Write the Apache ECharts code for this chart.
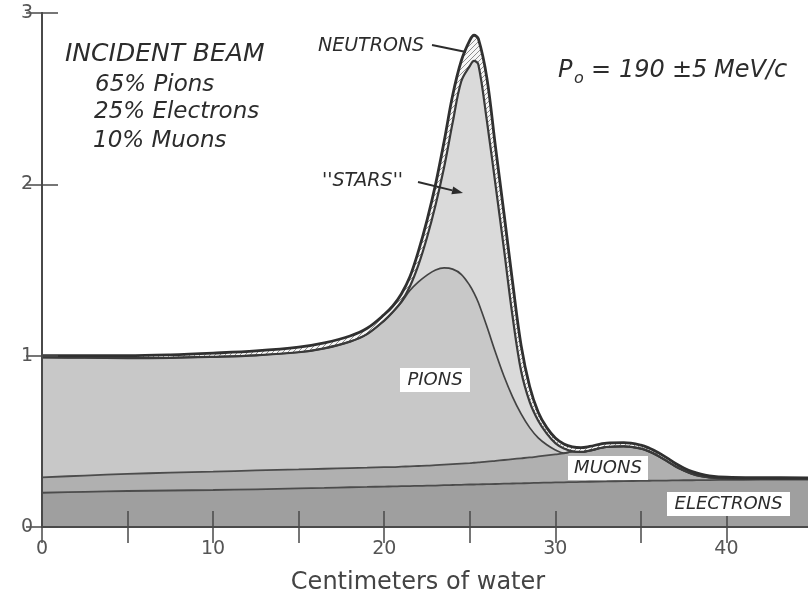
<!DOCTYPE html>
<html>
<head>
<meta charset="utf-8">
<script src="https://cdn.jsdelivr.net/npm/echarts@6/dist/echarts.min.js"></script>
<style>
  html, body { margin: 0; padding: 0; background: #ffffff; }
  #chart { width: 808px; height: 596px; }
</style>
</head>
<body>
<div id="chart"></div>
<script>
// Depth in water (cm) at which each boundary is sampled
const depth = [0, 2.5, 5, 7.5, 10, 12.5, 15, 16.5, 18, 19,
  20, 20.5, 21, 21.5, 22, 22.5, 23, 23.5, 24, 24.5,
  25, 25.25, 25.5, 26, 26.5, 27, 27.5, 28, 28.5, 29,
  29.5, 30, 30.5, 31, 31.5, 32, 33, 34, 35, 35.5,
  36, 36.5, 37, 37.5, 38, 38.5, 39, 40, 42, 45];

// Upper boundary of each stacked component (relative intensity)
const neutronsTop = [1.000, 1.000, 1.000, 1.005, 1.015, 1.028, 1.050, 1.075, 1.115, 1.160,
  1.240, 1.290, 1.360, 1.460, 1.610, 1.790, 2.000, 2.250, 2.520, 2.720,
  2.840, 2.870, 2.850, 2.620, 2.220, 1.830, 1.430, 1.060, 0.820, 0.670,
  0.580, 0.520, 0.485, 0.468, 0.463, 0.470, 0.490, 0.492, 0.478, 0.460,
  0.435, 0.405, 0.372, 0.345, 0.323, 0.308, 0.299, 0.291, 0.288, 0.287];

const starsTop = [0.990, 0.988, 0.986, 0.987, 0.993, 1.002, 1.020, 1.043, 1.082, 1.126,
  1.205, 1.255, 1.316, 1.404, 1.530, 1.690, 1.880, 2.100, 2.360, 2.600,
  2.690, 2.720, 2.700, 2.370, 2.000, 1.620, 1.230, 0.910, 0.730, 0.620,
  0.545, 0.490, 0.458, 0.442, 0.438, 0.446, 0.467, 0.470, 0.457, 0.440,
  0.415, 0.386, 0.355, 0.330, 0.310, 0.297, 0.289, 0.283, 0.281, 0.280];

const pionsTop = [0.990, 0.988, 0.986, 0.987, 0.993, 1.002, 1.020, 1.043, 1.082, 1.126,
  1.205, 1.255, 1.310, 1.380, 1.430, 1.470, 1.500, 1.512, 1.505, 1.475,
  1.410, 1.365, 1.310, 1.170, 1.020, 0.880, 0.760, 0.660, 0.580, 0.520,
  0.480, 0.450, 0.432, 0.440, 0.438, 0.446, 0.467, 0.470, 0.457, 0.440,
  0.415, 0.386, 0.355, 0.330, 0.310, 0.297, 0.289, 0.283, 0.281, 0.280];

const muonsTop = [0.290, 0.300, 0.310, 0.317, 0.323, 0.330, 0.336, 0.340, 0.344, 0.346,
  0.349, 0.350, 0.352, 0.354, 0.356, 0.358, 0.361, 0.364, 0.367, 0.370,
  0.373, 0.375, 0.377, 0.381, 0.386, 0.391, 0.396, 0.401, 0.406, 0.412,
  0.418, 0.424, 0.430, 0.440, 0.438, 0.446, 0.467, 0.470, 0.457, 0.440,
  0.415, 0.386, 0.355, 0.330, 0.310, 0.297, 0.289, 0.283, 0.281, 0.280];

const electronsTop = [0.200, 0.205, 0.210, 0.213, 0.216, 0.220, 0.225, 0.228, 0.232, 0.234,
  0.236, 0.237, 0.238, 0.239, 0.240, 0.241, 0.242, 0.244, 0.245, 0.246,
  0.248, 0.248, 0.249, 0.250, 0.251, 0.253, 0.254, 0.255, 0.256, 0.258,
  0.259, 0.260, 0.261, 0.262, 0.263, 0.264, 0.266, 0.268, 0.269, 0.270,
  0.271, 0.271, 0.272, 0.273, 0.273, 0.274, 0.274, 0.275, 0.276, 0.277];

// Axis tick labels
const xTickLabels = ['0', '10', '20', '30', '40'];
const yTickLabels = ['0', '1', '2', '3'];

const FONT = '"DejaVu Sans", "Liberation Sans", sans-serif';
const INK = '#2c2c2c';
const AXIS = '#4a4a4a';

// Diagonal hatching used for the neutron layer
function hatchPattern() {
  const c = document.createElement('canvas');
  c.width = 5; c.height = 5;
  const g = c.getContext('2d');
  g.fillStyle = '#f6f6f6';
  g.fillRect(0, 0, 5, 5);
  g.strokeStyle = '#8c8c8c';
  g.lineWidth = 1;
  g.beginPath();
  g.moveTo(-1, 6); g.lineTo(6, -1);
  g.moveTo(-1, 1); g.lineTo(1, -1);
  g.moveTo(4, 6); g.lineTo(6, 4);
  g.stroke();
  return c;
}

const SMOOTH = 0.35;
const pairs = ys => depth.map((x, i) => [x, ys[i]]);

function area(name, ys, color, z) {
  return {
    type: 'line', name, data: pairs(ys), smooth: SMOOTH, symbol: 'none',
    lineStyle: { width: 0 }, areaStyle: { color, opacity: 1 }, z, silent: true
  };
}
function edge(name, ys, color, width, z) {
  return {
    type: 'line', name: name + ' edge', data: pairs(ys), smooth: SMOOTH, symbol: 'none',
    lineStyle: { color, width }, z, silent: true
  };
}

function label(text, x, y, size) {
  return {
    type: 'text', z: 100, silent: true,
    style: { text, x, y, fill: INK, font: 'italic ' + size + 'px ' + FONT,
      textAlign: 'left', textVerticalAlign: 'middle' }
  };
}
function boxedLabel(text, x, y, w, h) {
  return [
    { type: 'rect', z: 99, silent: true, shape: { x, y, width: w, height: h }, style: { fill: '#ffffff' } },
    { type: 'text', z: 100, silent: true,
      style: { text, x: x + w / 2, y: y + h / 2, fill: INK, font: 'italic 18px ' + FONT,
        textAlign: 'center', textVerticalAlign: 'middle' } }
  ];
}
function arrow(x1, y1, x2, y2, head) {
  const a = Math.atan2(y2 - y1, x2 - x1);
  const len = head ? 11 : 0, wid = 4;
  const bx = x2 - len * Math.cos(a), by = y2 - len * Math.sin(a);
  const els = [{
    type: 'line', z: 100, silent: true,
    shape: { x1, y1, x2: bx, y2: by }, style: { stroke: INK, lineWidth: 2 }
  }];
  if (head) {
    els.push({
      type: 'polygon', z: 100, silent: true,
      shape: { points: [[x2, y2],
        [bx + wid * Math.sin(a), by - wid * Math.cos(a)],
        [bx - wid * Math.sin(a), by + wid * Math.cos(a)]] },
      style: { fill: INK }
    });
  }
  return els;
}

const chart = echarts.init(document.getElementById('chart'), null, { renderer: 'canvas' });

const tickStyle = { show: true, inside: true, length: 16, lineStyle: { color: AXIS, width: 1.5 } };
const lineStyle = { show: true, lineStyle: { color: AXIS, width: 2 } };

chart.setOption({
  animation: false,
  backgroundColor: '#ffffff',
  grid: { left: 42, right: -4, top: 13, bottom: 69, containLabel: false, outerBoundsMode: 'none' },
  xAxis: [{
    type: 'value', min: 0, max: 45, interval: 5, position: 'bottom', z: 20,
    axisLine: lineStyle, axisTick: tickStyle, splitLine: { show: false },
    axisLabel: {
      margin: 13, color: '#555', fontSize: 19, fontFamily: FONT,
      formatter: v => (xTickLabels.indexOf(String(v)) >= 0 ? String(v) : '')
    },
    name: 'Centimeters of water', nameLocation: 'middle', nameGap: 44,
    nameTextStyle: { color: '#444', fontSize: 24, fontFamily: FONT, padding: [0, 18, 0, 0] }
  }, {
    type: 'value', min: 0, max: 45, interval: 5, position: 'top', z: 20,
    axisLine: lineStyle, axisTick: tickStyle, axisLabel: { show: false }, splitLine: { show: false }
  }],
  yAxis: [{
    type: 'value', min: 0, max: 3, interval: 1, position: 'left', z: 20,
    axisLine: lineStyle, axisTick: tickStyle, splitLine: { show: false },
    axisLabel: {
      margin: 9, color: '#555', fontSize: 19, fontFamily: FONT,
      formatter: v => (yTickLabels.indexOf(String(v)) >= 0 ? String(v) : '')
    }
  }, {
    type: 'value', min: 0, max: 3, interval: 1, position: 'right', z: 20,
    axisLine: lineStyle, axisTick: tickStyle, axisLabel: { show: false }, splitLine: { show: false }
  }],
  series: [
    area('Neutrons', neutronsTop, { image: hatchPattern(), repeat: 'repeat' }, 1),
    area('Stars', starsTop, '#dadada', 2),
    area('Pions', pionsTop, '#c8c8c8', 3),
    area('Muons', muonsTop, '#b0b0b0', 4),
    area('Electrons', electronsTop, '#9f9f9f', 5),
    edge('Electrons', electronsTop, '#4c4c4c', 1.8, 6),
    edge('Muons', muonsTop, '#4c4c4c', 1.8, 7),
    edge('Pions', pionsTop, '#434343', 1.7, 8),
    edge('Stars', starsTop, '#3a3a3a', 2.2, 9),
    edge('Neutrons', neutronsTop, '#303030', 2.8, 10)
  ],
  graphic: [
    label('INCIDENT BEAM', 65, 54, 25),
    label('65% Pions', 95, 85, 23),
    label('25% Electrons', 94, 112, 23),
    label('10% Muons', 93, 141, 23),
    label('P', 558, 71, 24),
    label('o', 574, 79, 16),
    label('=', 591, 71, 24),
    label('190', 619, 71, 24),
    label('\u00b15', 672, 71, 24),
    label('MeV/c', 714, 71, 24),
    label('NEUTRONS', 318, 46, 19),
    ...arrow(432, 45, 466, 52, false),
    label("''STARS''", 322, 181, 19),
    ...arrow(418, 182, 463, 193, true),
    ...boxedLabel('PIONS', 400, 368, 70, 24),
    ...boxedLabel('MUONS', 568, 456, 80, 24),
    ...boxedLabel('ELECTRONS', 667, 492, 123, 24)
  ]
});
</script>
</body>
</html>
